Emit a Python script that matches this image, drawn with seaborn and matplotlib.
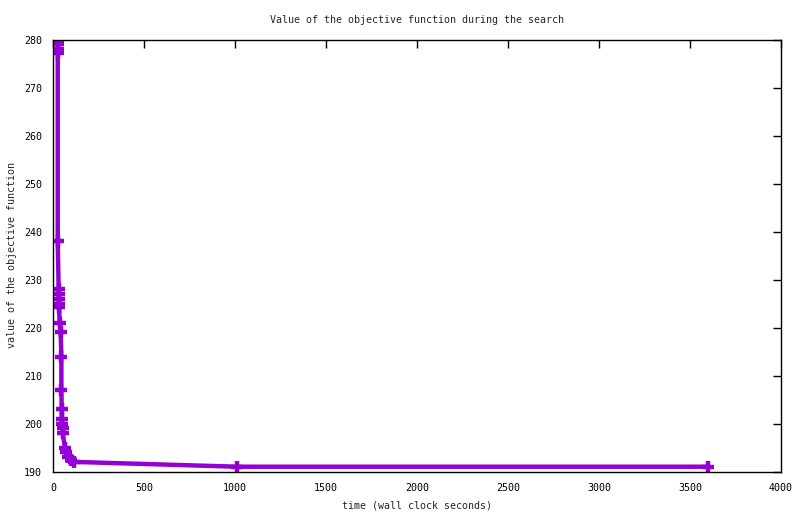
import matplotlib
matplotlib.use("Agg")
import matplotlib.pyplot as plt
import seaborn as sns
import pandas as pd

time_s = [26, 26, 26, 26, 26, 31, 31, 31, 33, 33, 37, 42, 46, 46, 48, 48, 49,
          53, 53, 66, 74, 80, 100, 115, 1010, 3600]
objective = [280.0, 279.0, 278.0, 277.1, 238.0, 228.0, 227.0, 226.0, 225.0, 224.3,
             221.0, 219.1, 213.9, 207.0, 203.0, 201.0, 200.0, 199.0, 198.0,
             195.0, 194.0, 193.0, 192.4, 192.0, 191.0, 191.0]

x_ticks = list(range(0, 4001, 500))
y_ticks = list(range(190, 281, 10))

df = pd.DataFrame({"time": time_s, "value": objective})

sns.set_style("white")
plt.rcParams["font.family"] = ["DejaVu Sans Mono", "DejaVu Sans"]
plt.rcParams["font.size"] = 7.2

fig = plt.figure(figsize=(8.0, 5.14), dpi=100)
ax = fig.add_axes([53 / 800, 1 - 471.5 / 514, 728 / 800, 432 / 514])

# line + "+" points, like gnuplot linespoints
sns.lineplot(data=df, x="time", y="value", sort=False, estimator=None,
             color="#9400d3", linewidth=3.2, ax=ax)
ax.plot(df["time"], df["value"], linestyle="none", marker="+", markersize=8,
        markeredgewidth=3.2, color="#9400d3")

ax.set_xlim(0, 4000)
ax.set_ylim(190, 280)
ax.set_xticks(x_ticks)
ax.set_yticks(y_ticks)
ax.tick_params(direction="in", length=6, width=1, top=True, right=True,
               labelsize=7.2, pad=8, colors="black")
for s in ax.spines.values():
    s.set_color("black")
    s.set_linewidth(1)

ax.set_title("Value of the objective function during the search", pad=12, fontsize=7.2)
ax.set_xlabel("time (wall clock seconds)", fontsize=7.2, labelpad=6)
ax.set_ylabel("value of the objective function", fontsize=7.2, labelpad=5)

fig.savefig("out.png", dpi=100)
